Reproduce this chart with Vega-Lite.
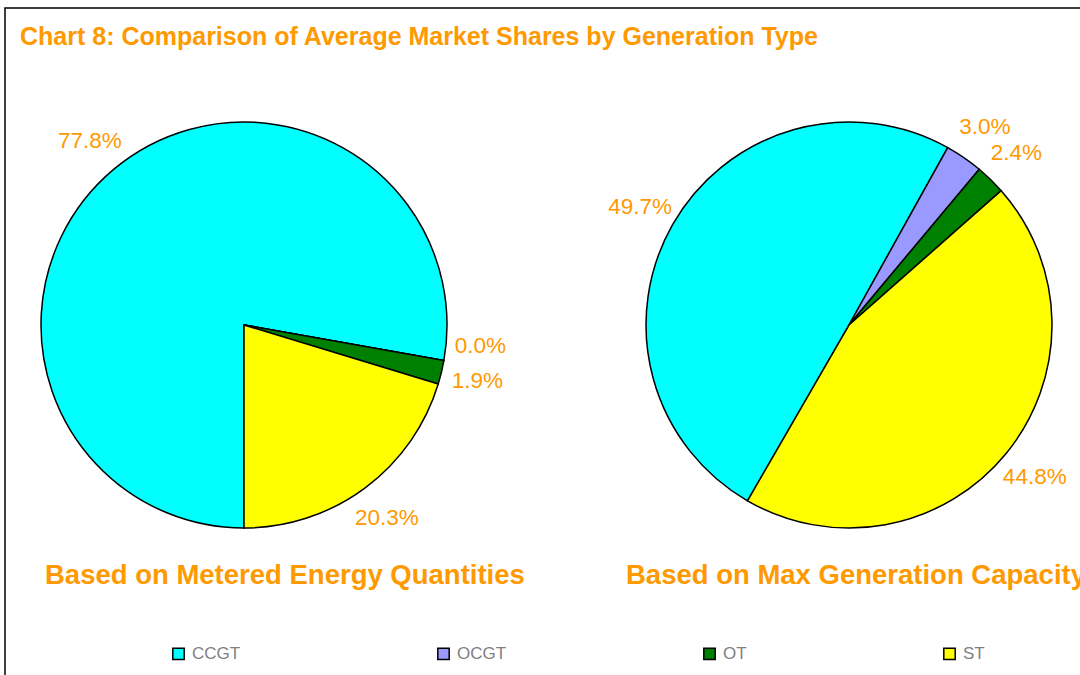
{
  "$schema": "https://vega.github.io/schema/vega-lite/v6.json",
  "autosize": {"type": "none"},
  "width": 1080,
  "height": 700,
  "padding": {"left": 5, "top": 8, "right": 0, "bottom": 0},
  "background": "white",
  "config": {
    "font": "Liberation Sans",
    "view": {"stroke": "black", "strokeWidth": 1.5}
  },
  "title": {
    "text": "Chart 8: Comparison of Average Market Shares by Generation Type",
    "anchor": "start",
    "frame": "group",
    "font": "Liberation Sans",
    "fontSize": 25,
    "fontWeight": "bold",
    "color": "#FF9900",
    "dx": 15,
    "dy": 46
  },
  "datasets": {
    "shares": [
      {"basis": "Metered", "type": "CCGT", "share": 77.8, "label": "77.8%"},
      {"basis": "Metered", "type": "OCGT", "share": 0.0, "label": "0.0%"},
      {"basis": "Metered", "type": "OT", "share": 1.9, "label": "1.9%"},
      {"basis": "Metered", "type": "ST", "share": 20.3, "label": "20.3%"},
      {"basis": "Capacity", "type": "CCGT", "share": 49.7, "label": "49.7%"},
      {"basis": "Capacity", "type": "OCGT", "share": 3.0, "label": "3.0%"},
      {"basis": "Capacity", "type": "OT", "share": 2.4, "label": "2.4%"},
      {"basis": "Capacity", "type": "ST", "share": 44.8, "label": "44.8%"}
    ],
    "subtitles": [
      {"basis": "Metered", "subtitle": "Based on Metered Energy Quantities"},
      {"basis": "Capacity", "subtitle": "Based on Max Generation Capacity"}
    ]
  },
  "encoding": {
    "x": {"field": "basis", "type": "nominal", "axis": null, "scale": {"type": "point", "domain": ["Metered", "Capacity"], "range": [239, 844], "padding": 0}},
    "y": {"field": "basis", "type": "nominal", "axis": null, "scale": {"type": "point", "domain": ["Metered", "Capacity"], "range": [317, 317], "padding": 0}}
  },
  "layer": [
    {
      "layer": [
        {
          "data": {"name": "shares"},
          "transform": [{"filter": "datum.basis === 'Metered'"}],
          "mark": {"type": "arc", "outerRadius": 203, "stroke": "black", "strokeWidth": 1.5},
          "encoding": {
            "theta": {"field": "share", "type": "quantitative", "stack": true, "scale": {"range": [3.14159265, 9.42477796]}},
            "order": {"field": "type", "type": "nominal", "sort": "ascending"},
            "color": {
              "field": "type", "type": "nominal",
              "scale": {"domain": ["CCGT", "OCGT", "OT", "ST"], "range": ["#00FFFF", "#9999FF", "#008000", "#FFFF00"]},
              "legend": {
                "orient": "none", "legendX": 165, "legendY": 637, "direction": "horizontal", "title": null,
                "columnPadding": 193, "symbolType": "square", "symbolSize": 130,
                "symbolStrokeColor": "black", "symbolStrokeWidth": 1.5,
                "labelFontSize": 17, "labelColor": "#808080", "labelFont": "Liberation Sans", "labelOffset": 5
              }
            }
          }
        },
        {
          "data": {"name": "shares"},
          "transform": [{"filter": "datum.basis === 'Metered'"}],
          "mark": {"type": "text", "fontSize": 22.5, "color": "#FF9900", "align": "center", "baseline": "middle", "radius": 240},
          "encoding": {
            "theta": {"field": "share", "type": "quantitative", "stack": true, "scale": {"range": [3.14159265, 9.42477796]}},
            "order": {"field": "type", "type": "nominal", "sort": "ascending"},
            "detail": {"field": "type", "type": "nominal"},
            "text": {"condition": {"test": "datum.share === 0", "value": ""}, "field": "label", "type": "nominal"}
          }
        },
        {
          "data": {"name": "shares"},
          "transform": [
            {"filter": "datum.basis === 'Metered'"},
            {"stack": "share", "groupby": ["basis"], "sort": [{"field": "type", "order": "ascending"}], "as": ["s0", "s1"]},
            {"filter": "datum.share === 0"}
          ],
          "mark": {"type": "text", "fontSize": 22.5, "color": "#FF9900", "align": "center", "baseline": "middle", "radius": 240, "dy": -21},
          "encoding": {
            "theta": {"field": "s0", "type": "quantitative", "scale": {"range": [3.14159265, 9.42477796]}},
            "text": {"field": "label", "type": "nominal"}
          }
        },
        {
          "data": {"name": "subtitles"},
          "transform": [{"filter": "datum.basis === 'Metered'"}],
          "mark": {"type": "text", "fontSize": 27.5, "fontWeight": "bold", "color": "#FF9900", "align": "left", "baseline": "middle", "dx": -199, "dy": 251},
          "encoding": {"text": {"field": "subtitle", "type": "nominal"}}
        }
      ]
    },
    {
      "layer": [
        {
          "data": {"name": "shares"},
          "transform": [{"filter": "datum.basis === 'Capacity'"}],
          "mark": {"type": "arc", "outerRadius": 203, "stroke": "black", "strokeWidth": 1.5},
          "encoding": {
            "theta": {"field": "share", "type": "quantitative", "stack": true, "scale": {"range": [3.66519143, 9.94837674]}},
            "order": {"field": "type", "type": "nominal", "sort": "ascending"},
            "color": {"field": "type", "type": "nominal"}
          }
        },
        {
          "data": {"name": "shares"},
          "transform": [{"filter": "datum.basis === 'Capacity'"}],
          "mark": {"type": "text", "fontSize": 22.5, "color": "#FF9900", "align": "center", "baseline": "middle", "radius": 240},
          "encoding": {
            "theta": {"field": "share", "type": "quantitative", "stack": true, "scale": {"range": [3.66519143, 9.94837674]}},
            "order": {"field": "type", "type": "nominal", "sort": "ascending"},
            "detail": {"field": "type", "type": "nominal"},
            "text": {"field": "label", "type": "nominal"}
          }
        },
        {
          "data": {"name": "subtitles"},
          "transform": [{"filter": "datum.basis === 'Capacity'"}],
          "mark": {"type": "text", "fontSize": 27.5, "fontWeight": "bold", "color": "#FF9900", "align": "left", "baseline": "middle", "dx": -223, "dy": 251},
          "encoding": {"text": {"field": "subtitle", "type": "nominal"}}
        }
      ]
    }
  ],
  "resolve": {"scale": {"theta": "independent"}}
}
